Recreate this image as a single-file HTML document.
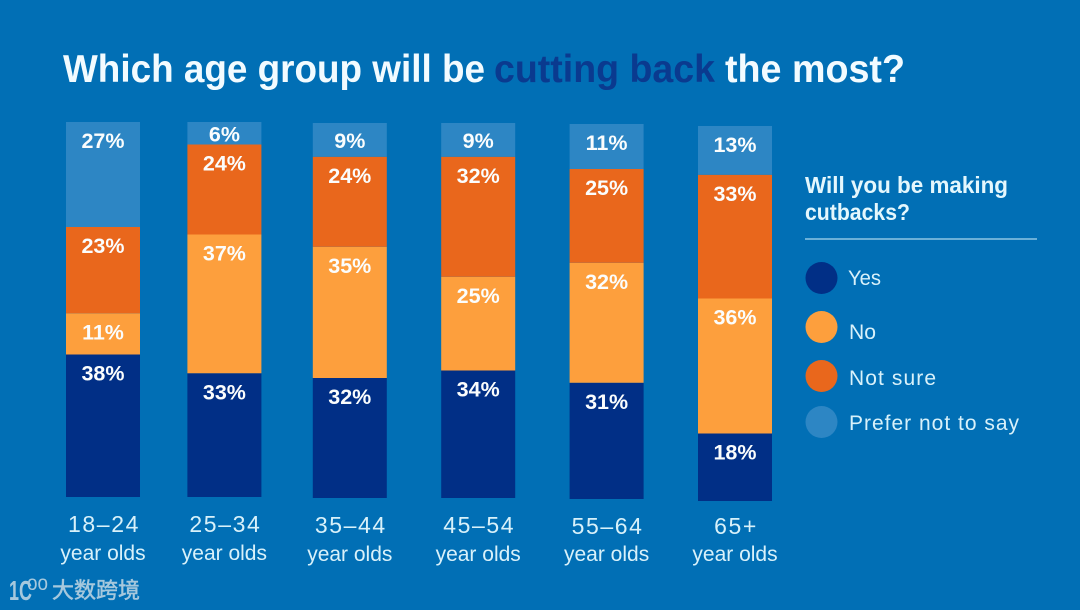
<!DOCTYPE html>
<html lang="en">
<head>
<meta charset="utf-8">
<title>Which age group will be cutting back the most?</title>
<style>
html,body{margin:0;padding:0;background:#016fb5;}
svg{display:block;}
text{font-family:"Liberation Sans","Noto Sans CJK SC",sans-serif;}
.title{font-size:39px;font-weight:700;fill:#f2fbff;}
.legend-title{font-size:23px;font-weight:700;fill:#e4f7fd;}
.legend-text{font-size:21px;fill:#d8f1fa;}
.pct{font-size:21.5px;font-weight:700;fill:#fbfdfd;text-anchor:middle;dominant-baseline:central;}
.cat1{font-size:23px;fill:#d8f1fa;text-anchor:middle;letter-spacing:1.6px;}
.cat2{font-size:21px;fill:#d8f1fa;text-anchor:middle;}
</style>
</head>
<body>
<svg id="chart" xmlns="http://www.w3.org/2000/svg" width="1080" height="610" viewBox="0 0 1080 610">
  <rect width="1080" height="610" fill="#016fb5"/>
  <text class="title" x="63" y="82" textLength="422" lengthAdjust="spacingAndGlyphs">Which age group will be</text>
  <text class="title" x="494" y="82" style="fill:#0a3a8f" textLength="221" lengthAdjust="spacingAndGlyphs">cutting back</text>
  <text class="title" x="725" y="82" textLength="180" lengthAdjust="spacingAndGlyphs">the most?</text>

  <g id="bars"></g>
  <g id="cats"></g>

  <g>
    <text class="legend-title" x="805" y="193" textLength="203" lengthAdjust="spacingAndGlyphs">Will you be making</text>
    <text class="legend-title" x="805" y="220" textLength="105" lengthAdjust="spacingAndGlyphs">cutbacks?</text>
    <line x1="805" y1="239" x2="1037" y2="239" stroke="#a9d8ee" stroke-width="1.2"/>
    <g>
      <circle cx="821.5" cy="278" r="16" fill="#012f86"/>
      <text class="legend-text" x="848" y="285" textLength="33" lengthAdjust="spacingAndGlyphs">Yes</text>
    </g>
    <g>
      <circle cx="821.5" cy="327" r="16" fill="#fd9f3d"/>
      <text class="legend-text" x="849" y="339" textLength="27" lengthAdjust="spacingAndGlyphs">No</text>
    </g>
    <g>
      <circle cx="821.5" cy="376" r="16" fill="#e9671c"/>
      <text class="legend-text" x="849" y="385" textLength="87" lengthAdjust="spacing">Not sure</text>
    </g>
    <g>
      <circle cx="821.5" cy="422" r="16" fill="#2d86c4"/>
      <text class="legend-text" x="849" y="430" textLength="170" lengthAdjust="spacing">Prefer not to say</text>
    </g>
  </g>

  <g>
    <text x="9" y="600" font-size="28" font-weight="700" style="fill:#a6c8dd" textLength="23" lengthAdjust="spacingAndGlyphs">1C</text>
    <text x="27" y="590" font-size="21" style="fill:#a6c8dd" textLength="21" lengthAdjust="spacingAndGlyphs">oo</text>
    <text x="52" y="598" font-size="22" style="fill:#a6c8dd;stroke:#a6c8dd;stroke-width:.5" textLength="88" lengthAdjust="spacing">大数跨境</text>
  </g>
</svg>
<script>
const categories = ["18–24", "25–34", "35–44", "45–54", "55–64", "65+"];
const categorySub = ["year olds", "year olds", "year olds", "year olds", "year olds", "year olds"];
const yesValues = [38, 33, 32, 34, 31, 18];
const noValues = [11, 37, 35, 25, 32, 36];
const notSureValues = [23, 24, 24, 32, 25, 33];
const preferValues = [27, 6, 9, 9, 11, 13];
/* Printed percentages of two bars sum to 99; the drawn top segment absorbs the rounding remainder. */
const roundingRemainder = [1, 0, 0, 0, 1, 0];

const seriesKeys = ["yes", "no", "not-sure", "prefer-not-to-say"];
const seriesColors = ["#012f86", "#fd9f3d", "#e9671c", "#2d86c4"];
const seriesValues = [yesValues, noValues, notSureValues, preferValues];

/* Layout: the source artwork is slightly skewed, so each band carries a small correction. */
const BAR_WIDTH = 74, PX_PER_PERCENT = 3.75;
const bandNudge = [0, -5, -6, -4, -2, 0];
const baseNudge = [0, 0, 1, 1, 2, 4];
function xScale(i) { return 66 + i * 126.4 + bandNudge[i]; }
function yScale(i, cumulative) { return 497 + baseNudge[i] - cumulative * PX_PER_PERCENT; }

const NS = "http://www.w3.org/2000/svg";
const barsGroup = document.getElementById("bars");
const catsGroup = document.getElementById("cats");

categories.forEach(function (cat, i) {
  const spans = [];
  let cum = 0;
  seriesValues.forEach(function (arr, s) {
    const drawn = arr[i] + (s === seriesValues.length - 1 ? roundingRemainder[i] : 0);
    spans.push({ bottom: yScale(i, cum), top: yScale(i, cum + drawn) });
    cum += drawn;
  });

  seriesValues.forEach(function (arr, s) {
    const r = document.createElementNS(NS, "rect");
    
    
    r.setAttribute("x", xScale(i));
    r.setAttribute("y", spans[s].top);
    r.setAttribute("width", BAR_WIDTH);
    r.setAttribute("height", spans[s].bottom - spans[s].top);
    r.setAttribute("fill", seriesColors[s]);
    barsGroup.appendChild(r);
  });

  seriesValues.forEach(function (arr, s) {
    const t = document.createElementNS(NS, "text");
    
    
    t.setAttribute("class", "pct");
    t.setAttribute("x", xScale(i) + BAR_WIDTH / 2);
    t.setAttribute("y", spans[s].top + Math.min(18, (spans[s].bottom - spans[s].top) / 2) + 1);
    t.textContent = arr[i] + "%";
    barsGroup.appendChild(t);
  });

  const baseY = yScale(i, 0);
  const c1 = document.createElementNS(NS, "text");
  
  
  c1.setAttribute("class", "cat1");
  c1.setAttribute("x", xScale(i) + BAR_WIDTH / 2 + 1);
  c1.setAttribute("y", Math.min(baseY, 499) + 35);
  c1.textContent = cat;
  catsGroup.appendChild(c1);

  const c2 = document.createElementNS(NS, "text");
  
  
  c2.setAttribute("class", "cat2");
  c2.setAttribute("x", xScale(i) + BAR_WIDTH / 2);
  c2.setAttribute("y", Math.min(baseY, 498) + 63);
  c2.textContent = categorySub[i];
  catsGroup.appendChild(c2);
});
</script>
</body>
</html>
